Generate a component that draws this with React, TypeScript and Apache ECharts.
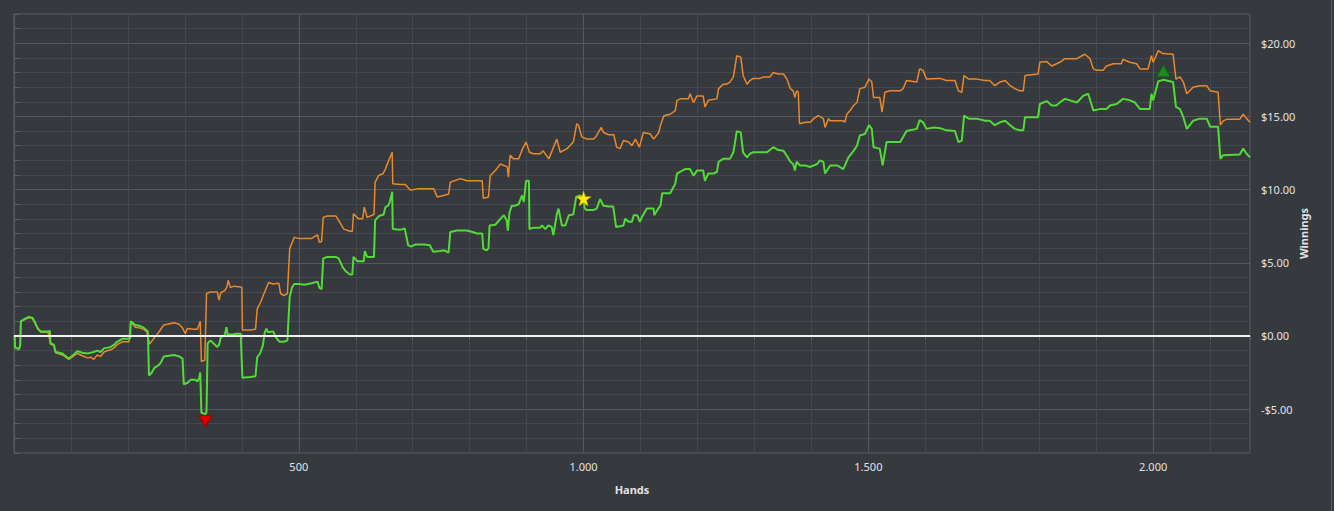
import React, { useEffect, useRef } from "react";
import * as echarts from "echarts";

// ---- Data (hands, winnings in $) ----
const netWon: [number, number][] = [
  [1, 0.0], [2, -0.8], [9, -0.9], [11, -0.6], [12, 1.0], [18, 1.15], [26, 1.3], [32, 1.25], [36, 1.0], [42, 0.5], [47, 0.3], [60, 0.3], [63, 0.35], [64, -0.5], [70, -0.6], [73, -1.1], [85, -1.2], [96, -1.55], [104, -1.3], [111, -1.05], [120, -1.15], [129, -1.2], [140, -1.1], [146, -1.0], [152, -1.1], [158, -0.85], [165, -0.8], [170, -0.75], [176, -0.6], [181, -0.4], [190, -0.2], [202, -0.2], [204, -0.15], [205, 1.0], [213, 0.75], [220, 0.7], [228, 0.55], [235, 0.3], [237, -2.7], [242, -2.5], [246, -2.2], [254, -2.0], [258, -1.8], [263, -1.4], [281, -1.3], [290, -1.4], [296, -1.55], [298, -3.3], [305, -3.2], [310, -3.0], [318, -3.0], [322, -3.1], [325, -2.9], [327, -2.5], [329, -5.25], [333, -5.3], [336, -5.35], [338, -5.2], [340, -0.5], [345, -0.3], [350, -0.5], [357, -0.75], [360, -0.6], [363, -0.1], [370, 0.05], [373, 0.6], [375, 0.1], [385, 0.1], [390, 0.15], [398, 0.15], [401, -2.85], [415, -2.8], [424, -2.75], [427, -1.45], [432, -1.2], [437, -0.65], [440, 0.2], [443, 0.5], [446, 0.25], [455, 0.3], [460, -0.1], [466, -0.4], [474, -0.4], [480, -0.3], [484, 2.65], [488, 3.3], [492, 3.55], [500, 3.55], [510, 3.5], [522, 3.6], [533, 3.7], [536, 3.3], [540, 3.2], [543, 5.3], [550, 5.4], [565, 5.4], [570, 5.3], [577, 4.7], [583, 4.4], [590, 4.2], [594, 4.2], [596, 5.4], [603, 5.1], [614, 5.1], [616, 5.8], [620, 5.4], [632, 5.4], [634, 7.9], [641, 8.2], [649, 8.3], [652, 8.8], [657, 8.9], [660, 9.2], [664, 9.85], [665, 7.3], [678, 7.25], [686, 7.35], [692, 6.2], [697, 6.1], [705, 6.25], [720, 6.25], [730, 6.2], [736, 5.75], [748, 5.8], [755, 5.85], [763, 5.7], [766, 7.1], [778, 7.2], [795, 7.2], [805, 7.1], [813, 7.0], [822, 7.0], [824, 5.95], [830, 5.85], [833, 6.0], [835, 7.55], [845, 7.6], [854, 8.0], [860, 8.25], [865, 7.9], [867, 7.2], [870, 8.45], [874, 8.9], [880, 8.9], [886, 9.0], [892, 9.6], [895, 9.15], [899, 10.6], [904, 10.6], [905, 7.3], [912, 7.4], [924, 7.4], [927, 7.55], [933, 7.3], [938, 7.55], [944, 7.45], [947, 6.9], [953, 8.3], [956, 8.7], [962, 7.55], [968, 7.55], [974, 8.25], [982, 8.3], [987, 9.5], [994, 9.6], [1000, 9.4], [1002, 8.7], [1006, 8.6], [1017, 8.6], [1023, 8.7], [1029, 9.35], [1035, 8.9], [1044, 8.85], [1052, 8.85], [1057, 7.45], [1064, 7.5], [1070, 7.55], [1073, 8.0], [1079, 7.8], [1085, 7.8], [1088, 8.25], [1094, 8.25], [1099, 7.8], [1102, 8.1], [1111, 8.7], [1123, 8.7], [1124, 8.25], [1131, 8.7], [1135, 8.9], [1138, 9.75], [1152, 9.75], [1161, 10.4], [1164, 11.1], [1178, 11.4], [1187, 11.4], [1193, 10.95], [1199, 11.3], [1210, 11.3], [1213, 10.6], [1219, 11.1], [1228, 11.1], [1234, 11.2], [1237, 11.9], [1245, 12.1], [1257, 12.1], [1263, 12.55], [1269, 14.0], [1276, 13.9], [1280, 12.55], [1287, 12.2], [1292, 12.45], [1298, 12.55], [1322, 12.55], [1333, 12.9], [1342, 12.7], [1351, 12.65], [1357, 12.3], [1363, 11.9], [1368, 11.75], [1371, 11.3], [1374, 11.9], [1380, 11.65], [1389, 11.65], [1398, 11.55], [1410, 11.75], [1415, 12.0], [1421, 11.9], [1424, 11.1], [1433, 11.65], [1445, 11.65], [1456, 11.4], [1465, 12.2], [1474, 12.65], [1480, 13.0], [1485, 13.7], [1494, 13.8], [1501, 14.4], [1506, 14.15], [1509, 12.9], [1520, 12.8], [1525, 11.65], [1532, 13.25], [1556, 13.25], [1561, 13.6], [1567, 14.0], [1585, 14.15], [1590, 14.75], [1596, 14.6], [1602, 14.15], [1615, 14.25], [1626, 14.2], [1637, 14.05], [1652, 14.0], [1658, 13.25], [1664, 13.35], [1668, 15.05], [1676, 14.85], [1690, 14.85], [1705, 14.7], [1713, 14.7], [1722, 14.4], [1731, 14.6], [1740, 14.7], [1749, 14.4], [1757, 14.15], [1766, 14.05], [1772, 14.05], [1775, 14.95], [1798, 14.95], [1801, 15.85], [1813, 16.05], [1822, 15.75], [1830, 15.75], [1836, 15.95], [1845, 16.2], [1854, 16.1], [1866, 15.95], [1877, 16.4], [1886, 16.55], [1895, 15.4], [1906, 15.5], [1918, 15.5], [1924, 15.75], [1936, 15.85], [1947, 16.2], [1959, 16.1], [1968, 15.95], [1977, 15.5], [1994, 15.5], [1997, 16.55], [2000, 16.1], [2009, 17.4], [2018, 17.5], [2035, 17.35], [2040, 15.65], [2047, 15.5], [2053, 14.95], [2059, 14.15], [2070, 14.7], [2082, 14.85], [2094, 14.85], [2100, 14.3], [2114, 14.3], [2118, 12.1], [2123, 12.35], [2152, 12.4], [2158, 12.8], [2164, 12.45], [2170, 12.2],
];

const allInEV: [number, number][] = [
  [1, 0.0], [2, -0.8], [9, -0.9], [11, -0.6], [12, 1.0], [18, 1.1], [26, 1.25], [32, 1.2], [36, 0.95], [42, 0.45], [47, 0.25], [60, 0.25], [64, -0.55], [70, -0.65], [73, -1.15], [85, -1.3], [96, -1.6], [104, -1.4], [111, -1.2], [120, -1.35], [129, -1.5], [135, -1.45], [140, -1.6], [146, -1.3], [152, -1.4], [158, -1.1], [165, -1.0], [170, -0.95], [176, -0.8], [181, -0.6], [190, -0.4], [202, -0.4], [205, 0.95], [213, 0.6], [220, 0.55], [228, 0.45], [233, 0.3], [238, -0.55], [246, -0.15], [254, 0.25], [263, 0.75], [270, 0.8], [281, 0.9], [290, 0.8], [295, 0.6], [301, 0.15], [304, 0.5], [315, 0.45], [322, 0.45], [327, 1.0], [329, -1.75], [335, -1.65], [338, 2.9], [345, 3.0], [357, 3.0], [360, 2.45], [363, 2.95], [370, 3.1], [374, 3.35], [376, 3.8], [380, 3.3], [386, 3.4], [398, 3.35], [400, 3.3], [401, 0.4], [415, 0.4], [424, 0.45], [427, 1.85], [433, 2.3], [439, 2.9], [447, 3.65], [455, 3.55], [465, 3.6], [468, 2.9], [474, 2.75], [480, 2.9], [484, 5.95], [492, 6.75], [500, 6.65], [522, 6.65], [528, 6.8], [533, 6.9], [536, 6.4], [540, 6.45], [543, 8.1], [550, 8.2], [565, 8.2], [573, 7.7], [579, 7.3], [590, 7.15], [594, 7.15], [596, 8.35], [605, 8.0], [612, 8.0], [615, 8.8], [620, 8.1], [632, 8.3], [634, 10.5], [640, 10.95], [648, 11.1], [652, 11.4], [658, 12.0], [664, 12.55], [665, 10.4], [678, 10.35], [687, 10.35], [696, 9.95], [708, 10.05], [737, 10.05], [743, 9.5], [754, 9.6], [763, 9.7], [766, 10.5], [784, 10.75], [795, 10.6], [822, 10.6], [824, 9.4], [833, 9.5], [836, 10.95], [845, 11.3], [854, 11.75], [866, 11.55], [868, 10.85], [871, 12.35], [877, 12.1], [886, 12.1], [893, 12.8], [899, 13.25], [905, 12.55], [912, 12.45], [924, 12.45], [929, 12.65], [939, 12.1], [953, 13.45], [959, 12.55], [971, 12.8], [982, 13.25], [988, 14.5], [991, 14.4], [997, 13.6], [1006, 13.45], [1018, 13.45], [1023, 13.7], [1031, 14.25], [1035, 13.9], [1044, 13.75], [1053, 13.75], [1058, 12.9], [1064, 12.8], [1070, 13.35], [1079, 13.25], [1085, 13.0], [1091, 13.45], [1098, 12.9], [1105, 13.9], [1117, 13.8], [1123, 13.45], [1132, 13.9], [1135, 14.4], [1141, 15.05], [1152, 15.15], [1161, 15.4], [1164, 16.1], [1170, 16.2], [1184, 16.2], [1187, 16.55], [1193, 15.95], [1199, 16.4], [1210, 16.4], [1213, 15.65], [1219, 16.1], [1234, 16.2], [1237, 16.9], [1245, 17.2], [1251, 17.2], [1257, 17.35], [1263, 17.7], [1269, 19.15], [1276, 19.05], [1280, 17.8], [1287, 17.2], [1292, 17.45], [1298, 17.6], [1310, 17.6], [1316, 17.7], [1327, 17.7], [1333, 18.0], [1342, 17.9], [1351, 17.9], [1357, 17.55], [1363, 16.9], [1368, 16.75], [1371, 16.3], [1374, 16.75], [1377, 16.65], [1379, 14.5], [1389, 14.6], [1398, 14.6], [1404, 14.85], [1412, 15.05], [1421, 14.85], [1424, 14.25], [1430, 14.85], [1433, 14.7], [1456, 14.7], [1459, 14.6], [1462, 15.15], [1468, 15.4], [1474, 15.75], [1480, 15.95], [1485, 16.9], [1494, 17.0], [1501, 17.55], [1506, 17.35], [1509, 16.3], [1520, 16.3], [1524, 15.3], [1529, 16.65], [1538, 16.75], [1556, 16.75], [1561, 16.9], [1567, 17.45], [1585, 17.35], [1590, 18.25], [1596, 18.15], [1602, 17.55], [1626, 17.6], [1637, 17.45], [1652, 17.45], [1658, 16.75], [1664, 16.65], [1668, 17.8], [1676, 17.55], [1690, 17.55], [1705, 17.45], [1713, 17.45], [1722, 17.1], [1731, 17.35], [1740, 17.45], [1749, 17.1], [1757, 16.9], [1766, 16.75], [1772, 16.75], [1775, 17.8], [1798, 17.9], [1801, 18.7], [1813, 18.75], [1822, 18.45], [1836, 18.7], [1845, 18.95], [1866, 18.95], [1880, 19.25], [1889, 18.95], [1895, 18.25], [1901, 18.15], [1912, 18.15], [1918, 18.45], [1930, 18.6], [1944, 18.6], [1947, 18.9], [1959, 18.7], [1971, 18.6], [1977, 18.25], [1991, 18.25], [1997, 19.15], [2000, 18.7], [2009, 19.5], [2017, 19.3], [2035, 19.25], [2040, 17.55], [2047, 17.7], [2053, 17.35], [2059, 16.55], [2070, 17.0], [2082, 17.1], [2094, 17.1], [2100, 16.75], [2114, 16.65], [2118, 14.4], [2123, 14.7], [2129, 14.8], [2152, 14.8], [2158, 15.15], [2164, 14.85], [2170, 14.6],
];

const xRange = [0, 2170];
const yRange = [-8, 22];
const xLabelTicks = [500, 1000, 1500, 2000];
const yLabelTicks = [-5, 0, 5, 10, 15, 20];
const starPoint = [1000, 9.4];

const BG = "#36393d";
const MAJOR = "#55585c";
const MINOR = "#45484c";
const BORDER = "#5e6165";
const TEXT = "#e2e2e2";
const FONT = "'Noto Sans', 'DejaVu Sans', sans-serif";
const STAR =
  "path://M50,0 L61,35 L98,35 L68,57 L79,91 L50,70 L21,91 L32,57 L2,35 L39,35 Z";

const fmtHands = (v: number) =>
  v >= 1000
    ? `${Math.floor(v / 1000)}.${String(v % 1000).padStart(3, "0")}`
    : `${v}`;
const fmtMoney = (v: number) =>
  (v < 0 ? "-$" : "$") + Math.abs(v).toFixed(2);

export default function App() {
  const ref = useRef<HTMLDivElement>(null);

  useEffect(() => {
    document.body.style.margin = "0";
    document.body.style.background = BG;
    if (!ref.current) return;
    const chart = echarts.init(ref.current, undefined, { renderer: "svg" });

    chart.setOption({
      animation: false,
      backgroundColor: BG,
      grid: {
        left: 14,
        top: 14,
        right: 84,
        bottom: 58,
        show: true,
        borderColor: BORDER,
        borderWidth: 1,
        backgroundColor: "transparent",
      },
      xAxis: [
        {
          type: "value",
          min: xRange[0],
          max: xRange[1],
          interval: 100,
          position: "bottom",
          axisLine: { show: false },
          axisTick: { show: true, length: 4, lineStyle: { color: BORDER } },
          axisLabel: { show: false },
          splitLine: {
            show: true,
            lineStyle: { color: [MAJOR, MINOR, MINOR, MINOR, MINOR], width: 1 },
          },
        },
        {
          type: "value",
          min: xRange[0],
          max: xRange[1],
          interval: 500,
          position: "bottom",
          axisLine: { show: false },
          axisTick: {
            show: true,
            length: 12,
            customValues: xLabelTicks,
            lineStyle: { color: MAJOR },
          },
          axisLabel: {
            show: true,
            customValues: xLabelTicks,
            formatter: fmtHands,
            color: TEXT,
            fontSize: 11,
            fontFamily: FONT,
            margin: 8,
          },
          splitLine: { show: false },
          name: "Hands",
          nameLocation: "middle",
          nameGap: 31,
          nameMoveOverlap: false,
          nameTextStyle: { color: TEXT, fontWeight: "bold", fontSize: 11, fontFamily: FONT },
        },
      ],
      yAxis: [
        {
          type: "value",
          min: yRange[0],
          max: yRange[1],
          interval: 1,
          position: "right",
          axisLine: { show: false },
          axisTick: { show: true, length: 5, lineStyle: { color: BORDER } },
          axisLabel: { show: false },
          splitLine: {
            show: true,
            lineStyle: { color: [MINOR, MINOR, MINOR, MAJOR, MINOR], width: 1 },
          },
        },
        {
          type: "value",
          min: yRange[0],
          max: yRange[1],
          interval: 1,
          position: "right",
          axisLine: { show: false },
          axisTick: {
            show: true,
            length: 8,
            customValues: yLabelTicks,
            lineStyle: { color: MAJOR },
          },
          axisLabel: {
            show: true,
            customValues: yLabelTicks,
            formatter: fmtMoney,
            color: TEXT,
            fontSize: 11,
            fontFamily: FONT,
            margin: 11,
          },
          splitLine: { show: false },
          name: "Winnings",
          nameLocation: "middle",
          nameRotate: 90,
          nameGap: 48,
          nameMoveOverlap: false,
          nameTextStyle: { color: TEXT, fontWeight: "bold", fontSize: 11, fontFamily: FONT },
        },
      ],
      graphic: [
        {
          type: "rect",
          silent: true,
          shape: { x: 1331, y: 0, width: 1, height: 511 },
          style: { fill: "#56595d" },
        },
      ],
      series: [
        {
          name: "All-in EV",
          type: "line",
          xAxisIndex: 0,
          yAxisIndex: 0,
          data: allInEV,
          showSymbol: false,
          symbol: "none",
          silent: true,
          lineStyle: { color: "#e8892c", width: 1.5 },
          z: 3,
        },
        {
          name: "Net won",
          type: "line",
          xAxisIndex: 0,
          yAxisIndex: 0,
          data: netWon,
          showSymbol: false,
          symbol: "none",
          silent: true,
          lineStyle: { color: "#52da38", width: 2 },
          z: 4,
          markLine: {
            silent: true,
            symbol: "none",
            label: { show: false },
            lineStyle: { color: "#f2f2f2", width: 2, type: "solid" },
            data: [{ yAxis: 0 }],
          },
          markPoint: {
            silent: true,
            label: { show: false },
            data: [
              {
                type: "min",
                valueIndex: 1,
                symbol: "triangle",
                symbolRotate: 180,
                symbolSize: [13, 11],
                symbolOffset: [0, 7],
                itemStyle: { color: "#e10000", borderColor: "#9a0000", borderWidth: 1 },
              },
              {
                type: "max",
                valueIndex: 1,
                symbol: "triangle",
                symbolSize: [14, 12],
                symbolOffset: [0, -9],
                itemStyle: { color: "#1a8c1a", borderColor: "#0e5e0e", borderWidth: 1 },
              },
              {
                coord: starPoint,
                symbol: STAR,
                symbolSize: 15,
                itemStyle: { color: "#ffee00", borderColor: "#d4b000", borderWidth: 0.5 },
              },
            ],
          },
        },
      ],
    });

    return () => chart.dispose();
  }, []);

  return <div ref={ref} style={{ width: 1334, height: 511 }} />;
}
